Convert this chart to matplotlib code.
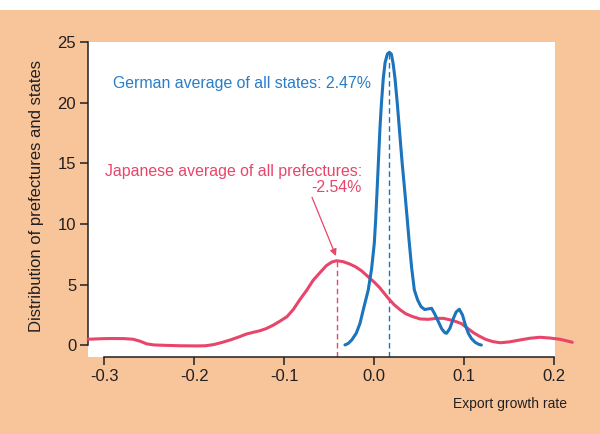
import matplotlib
matplotlib.use("Agg")
import matplotlib.pyplot as plt
from matplotlib.patches import Rectangle

plt.rcParams['font.family'] = ['Liberation Sans', 'DejaVu Sans']

# Japanese prefectures density
jp_x = [-0.318, -0.300, -0.290, -0.278, -0.268, -0.260, -0.253, -0.245, -0.234, -0.215,
        -0.197, -0.188, -0.179, -0.170, -0.160, -0.150, -0.142, -0.134, -0.127, -0.120,
        -0.112, -0.105, -0.097, -0.090, -0.083, -0.075, -0.068, -0.060, -0.053, -0.047,
        -0.042, -0.035, -0.028, -0.021, -0.014, -0.007, 0.000, 0.006, 0.0156, 0.022,
        0.029, 0.035, 0.042, 0.051, 0.060, 0.069, 0.077, 0.085, 0.091, 0.097,
        0.104, 0.110, 0.116, 0.124, 0.132, 0.140, 0.150, 0.162, 0.173, 0.184,
        0.195, 0.206, 0.213, 0.220]
jp_y = [0.50, 0.55, 0.56, 0.55, 0.50, 0.33, 0.12, 0.03, 0.00, -0.04,
        -0.05, -0.04, 0.05, 0.22, 0.44, 0.70, 0.93, 1.08, 1.20, 1.38,
        1.67, 1.98, 2.36, 2.95, 3.73, 4.55, 5.35, 6.02, 6.58, 6.87,
        6.97, 6.90, 6.72, 6.48, 6.13, 5.66, 5.20, 4.75, 3.87, 3.35,
        2.91, 2.60, 2.38, 2.17, 2.14, 2.22, 2.22, 2.08, 1.95, 1.78,
        1.38, 1.05, 0.78, 0.48, 0.30, 0.21, 0.28, 0.44, 0.58, 0.66,
        0.60, 0.50, 0.38, 0.25]

# German states density
de_x = [-0.0326, -0.029, -0.025, -0.020, -0.0159, -0.012, -0.0067, -0.003, 0.000, 0.0015,
        0.003, 0.0045, 0.0063, 0.008, 0.010, 0.012, 0.0145, 0.0167, 0.019, 0.021,
        0.023, 0.0255, 0.0278, 0.031, 0.034, 0.0365, 0.0386, 0.0415, 0.0445, 0.0482,
        0.052, 0.056, 0.060, 0.0637, 0.067, 0.0712, 0.075, 0.0785, 0.0804, 0.084,
        0.0878, 0.091, 0.0945, 0.098, 0.1015, 0.1045, 0.108, 0.112, 0.116, 0.119]
de_y = [0.03, 0.15, 0.44, 1.0, 1.8, 3.0, 4.56, 6.3, 8.4, 10.3,
        12.6, 15.0, 17.9, 20.0, 22.0, 23.3, 24.0, 24.15, 24.0, 23.2,
        22.0, 20.0, 17.9, 15.0, 12.6, 10.5, 8.68, 6.4, 4.56, 3.73,
        3.18, 2.95, 3.0, 3.05, 2.6, 1.95, 1.35, 1.03, 0.99, 1.4,
        2.2, 2.75, 2.97, 2.5, 1.6, 0.99, 0.55, 0.25, 0.08, 0.02]

jp_mode = -0.0418
jp_peak = 6.97
de_mode = 0.0167
de_peak = 24.15

x_ticks = [-0.3, -0.2, -0.1, 0.0, 0.1, 0.2]
x_ticklabels = ['-0.3', '-0.2', '-0.1', '0.0', '0.1', '0.2']
y_ticks = [0, 5, 10, 15, 20, 25]

orange = '#F8C59A'
blue = '#1B74BC'
pink = '#E8456A'
dark = '#231F20'

fig = plt.figure(figsize=(6.0, 4.34), dpi=100)
fig.patch.set_facecolor('white')
fig.patches.append(Rectangle((0, 0), 1, (434 - 10) / 434, transform=fig.transFigure,
                             facecolor=orange, edgecolor='none', zorder=-10))

ax = fig.add_axes([88 / 600, (434 - 357) / 434, (555 - 88) / 600, (357 - 42) / 434])
ax.set_facecolor('white')
ax.set_xlim(-0.3181, 0.2008)
ax.set_ylim(-0.965, 25.0)

ax.plot(jp_x, jp_y, color=pink, lw=2.2, clip_on=False, zorder=3, solid_capstyle='round')
ax.plot(de_x, de_y, color=blue, lw=2.2, zorder=4, solid_capstyle='round')

ax.vlines(jp_mode, -0.965, jp_peak, colors=pink, linestyles=(0, (4, 2.5)), lw=1.0, zorder=2)
ax.vlines(de_mode, -0.965, de_peak, colors=blue, linestyles=(0, (4, 2.5)), lw=1.0, zorder=2)

for s in ['top', 'right']:
    ax.spines[s].set_visible(False)
ax.spines['left'].set_bounds(0, 25)
ax.spines['bottom'].set_bounds(-0.3, 0.2)
for s in ['left', 'bottom']:
    ax.spines[s].set_color(dark)
    ax.spines[s].set_linewidth(1.1)

ax.set_xticks(x_ticks)
ax.set_xticklabels(x_ticklabels)
ax.set_yticks(y_ticks)
ax.tick_params(direction='out', length=5.5, width=1.1, color=dark, labelcolor=dark,
               labelsize=12, pad=3)

ax.text(-0.2907, 21.2, 'German average of all states: 2.47%', color='#2A7DC6',
        fontsize=11.4, ha='left', va='baseline')
ax.text(-0.014, 13.98, 'Japanese average of all prefectures:', color=pink,
        fontsize=11.4, ha='right', va='baseline')
ax.text(-0.014, 12.62, '-2.54%', color=pink, fontsize=11.4, ha='right', va='baseline')

ax.annotate('', xy=(-0.0426, 7.36), xytext=(-0.0692, 12.2),
            arrowprops=dict(arrowstyle='-|>', color=pink, lw=0.9,
                            mutation_scale=10, shrinkA=0, shrinkB=0))

fig.text(36.7 / 600, 1 - 196 / 434, 'Distribution of prefectures and states',
         rotation=90, ha='center', va='center', fontsize=12, color=dark)
fig.text(567 / 600, 1 - 404 / 434, 'Export growth rate', ha='right', va='center',
         fontsize=10, color=dark)

fig.savefig('out.png', dpi=100, facecolor=fig.get_facecolor())
